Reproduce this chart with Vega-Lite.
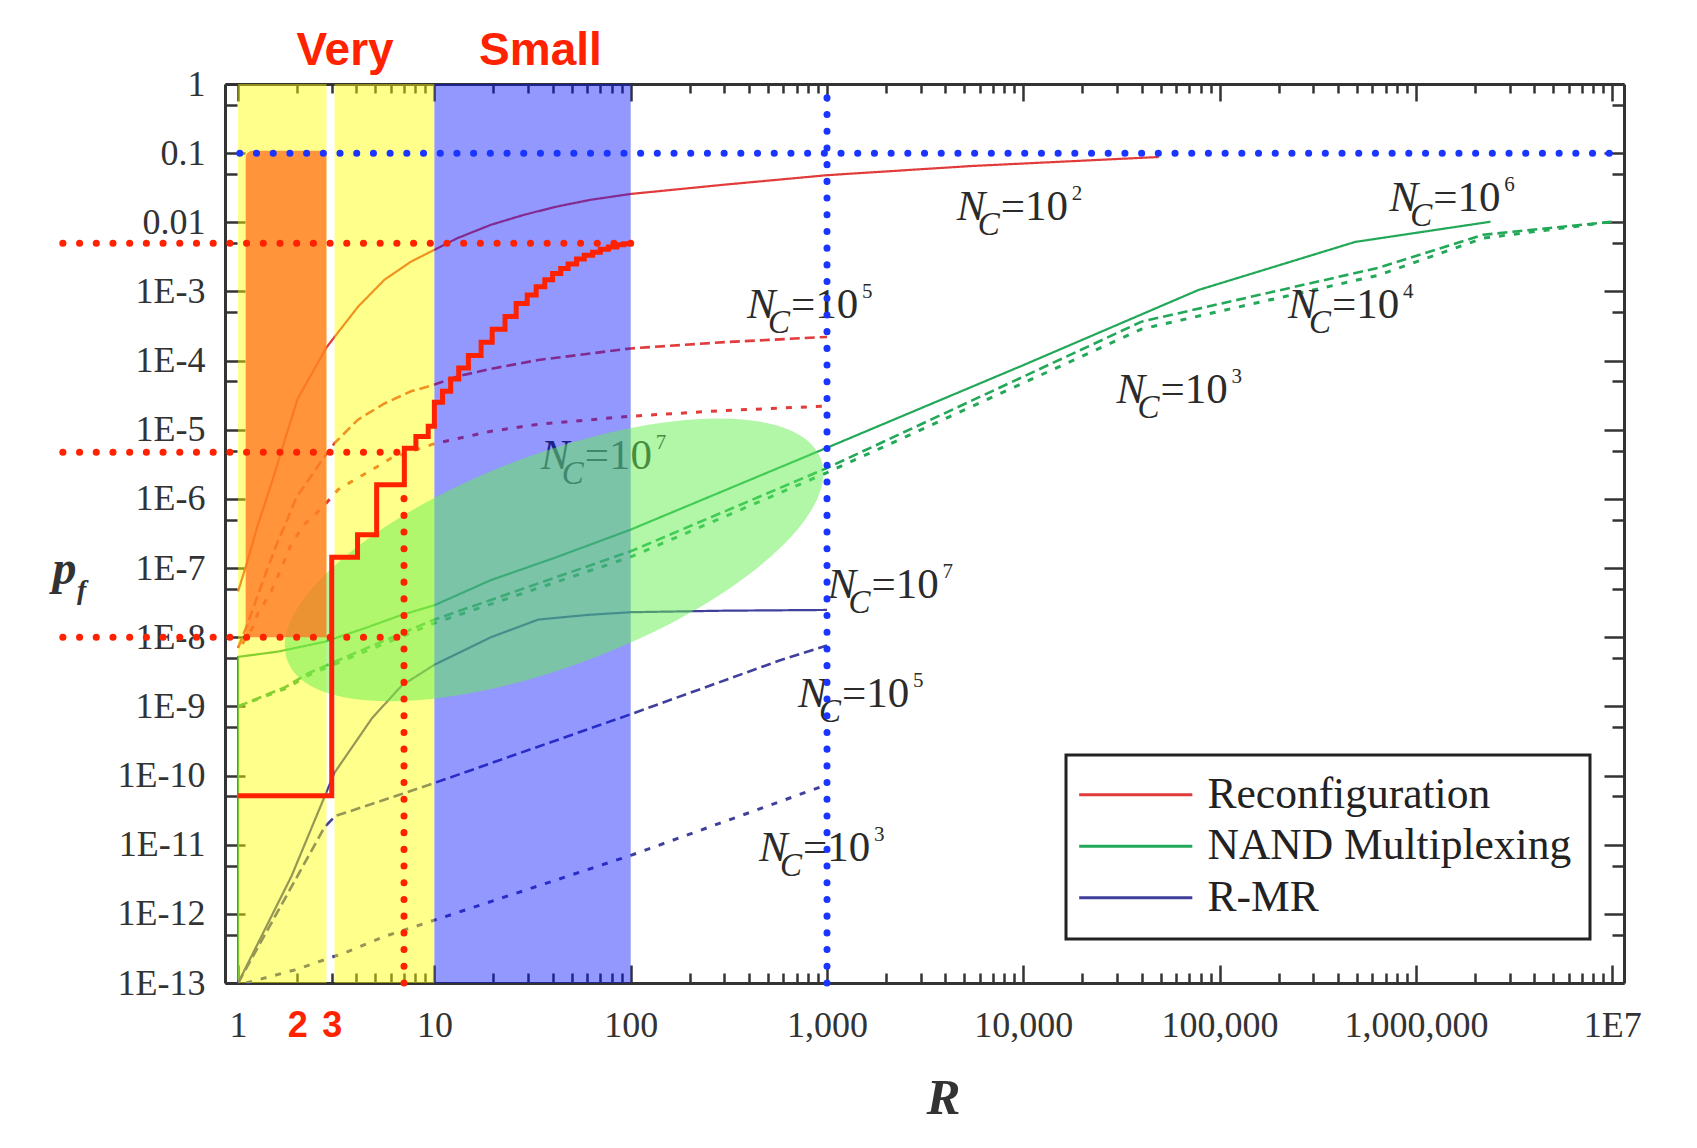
{
  "$schema": "https://vega.github.io/schema/vega-lite/v6.json",
  "width": 1399,
  "height": 899,
  "autosize": {"type": "none"},
  "padding": {"left": 225, "top": 84, "right": 73, "bottom": 165},
  "background": "#ffffff",
  "config": {
    "view": {"stroke": null},
    "legend": {"strokeWidth": 3}
  },
  "datasets": {
    "curves": [
      {"m": "Reconfiguration", "s": "solid", "x": 1, "y": 4.6e-8},
      {"m": "Reconfiguration", "s": "solid", "x": 1.1, "y": 1.1e-7},
      {"m": "Reconfiguration", "s": "solid", "x": 1.27, "y": 4.5e-7},
      {"m": "Reconfiguration", "s": "solid", "x": 1.5, "y": 1.9e-6},
      {"m": "Reconfiguration", "s": "solid", "x": 1.73, "y": 7.1e-6},
      {"m": "Reconfiguration", "s": "solid", "x": 2.01, "y": 2.8e-5},
      {"m": "Reconfiguration", "s": "solid", "x": 2.82, "y": 1.55e-4},
      {"m": "Reconfiguration", "s": "solid", "x": 3.1, "y": 2.2e-4},
      {"m": "Reconfiguration", "s": "solid", "x": 4.08, "y": 6e-4},
      {"m": "Reconfiguration", "s": "solid", "x": 5.57, "y": 1.48e-3},
      {"m": "Reconfiguration", "s": "solid", "x": 7.6, "y": 2.7e-3},
      {"m": "Reconfiguration", "s": "solid", "x": 10, "y": 4e-3},
      {"m": "Reconfiguration", "s": "solid", "x": 13.1, "y": 5.9e-3},
      {"m": "Reconfiguration", "s": "solid", "x": 19.4, "y": 9.2e-3},
      {"m": "Reconfiguration", "s": "solid", "x": 28.8, "y": 0.0129},
      {"m": "Reconfiguration", "s": "solid", "x": 42.5, "y": 0.017},
      {"m": "Reconfiguration", "s": "solid", "x": 62.7, "y": 0.0212},
      {"m": "Reconfiguration", "s": "solid", "x": 100, "y": 0.0257},
      {"m": "Reconfiguration", "s": "solid", "x": 300, "y": 0.035},
      {"m": "Reconfiguration", "s": "solid", "x": 1000, "y": 0.048},
      {"m": "Reconfiguration", "s": "solid", "x": 5355, "y": 0.065},
      {"m": "Reconfiguration", "s": "solid", "x": 49000, "y": 0.088},
      {"m": "Reconfiguration", "s": "dashed", "x": 1, "y": 7e-9},
      {"m": "Reconfiguration", "s": "dashed", "x": 1.1, "y": 1.4e-8},
      {"m": "Reconfiguration", "s": "dashed", "x": 1.167, "y": 2.2e-8},
      {"m": "Reconfiguration", "s": "dashed", "x": 1.31, "y": 5.5e-8},
      {"m": "Reconfiguration", "s": "dashed", "x": 1.45, "y": 1.2e-7},
      {"m": "Reconfiguration", "s": "dashed", "x": 1.6, "y": 2.5e-7},
      {"m": "Reconfiguration", "s": "dashed", "x": 1.79, "y": 5.2e-7},
      {"m": "Reconfiguration", "s": "dashed", "x": 1.98, "y": 1.05e-6},
      {"m": "Reconfiguration", "s": "dashed", "x": 2.76, "y": 4.1e-6},
      {"m": "Reconfiguration", "s": "dashed", "x": 3.1, "y": 6.4e-6},
      {"m": "Reconfiguration", "s": "dashed", "x": 4.08, "y": 1.4e-5},
      {"m": "Reconfiguration", "s": "dashed", "x": 5.57, "y": 2.4e-5},
      {"m": "Reconfiguration", "s": "dashed", "x": 7.6, "y": 3.6e-5},
      {"m": "Reconfiguration", "s": "dashed", "x": 10, "y": 4.5e-5},
      {"m": "Reconfiguration", "s": "dashed", "x": 13.1, "y": 5.9e-5},
      {"m": "Reconfiguration", "s": "dashed", "x": 19.4, "y": 7.6e-5},
      {"m": "Reconfiguration", "s": "dashed", "x": 33.8, "y": 1.02e-4},
      {"m": "Reconfiguration", "s": "dashed", "x": 100, "y": 1.5e-4},
      {"m": "Reconfiguration", "s": "dashed", "x": 300, "y": 1.85e-4},
      {"m": "Reconfiguration", "s": "dashed", "x": 1000, "y": 2.2e-4},
      {"m": "Reconfiguration", "s": "dotted", "x": 1.05, "y": 8e-9},
      {"m": "Reconfiguration", "s": "dotted", "x": 1.19, "y": 1.4e-8},
      {"m": "Reconfiguration", "s": "dotted", "x": 1.26, "y": 2.2e-8},
      {"m": "Reconfiguration", "s": "dotted", "x": 1.475, "y": 4.6e-8},
      {"m": "Reconfiguration", "s": "dotted", "x": 1.66, "y": 9.9e-8},
      {"m": "Reconfiguration", "s": "dotted", "x": 1.86, "y": 2.2e-7},
      {"m": "Reconfiguration", "s": "dotted", "x": 2.18, "y": 4.3e-7},
      {"m": "Reconfiguration", "s": "dotted", "x": 2.66, "y": 7.3e-7},
      {"m": "Reconfiguration", "s": "dotted", "x": 3.23, "y": 1.36e-6},
      {"m": "Reconfiguration", "s": "dotted", "x": 3.93, "y": 1.9e-6},
      {"m": "Reconfiguration", "s": "dotted", "x": 4.77, "y": 2.6e-6},
      {"m": "Reconfiguration", "s": "dotted", "x": 6.03, "y": 3.9e-6},
      {"m": "Reconfiguration", "s": "dotted", "x": 10, "y": 6.3e-6},
      {"m": "Reconfiguration", "s": "dotted", "x": 19.4, "y": 9.5e-6},
      {"m": "Reconfiguration", "s": "dotted", "x": 33.8, "y": 1.2e-5},
      {"m": "Reconfiguration", "s": "dotted", "x": 100, "y": 1.57e-5},
      {"m": "Reconfiguration", "s": "dotted", "x": 300, "y": 1.9e-5},
      {"m": "Reconfiguration", "s": "dotted", "x": 1000, "y": 2.2e-5},
      {"m": "NAND Multiplexing", "s": "solid", "x": 1, "y": 1e-13},
      {"m": "NAND Multiplexing", "s": "solid", "x": 1, "y": 5.2e-9},
      {"m": "NAND Multiplexing", "s": "solid", "x": 1.6, "y": 6.2e-9},
      {"m": "NAND Multiplexing", "s": "solid", "x": 2.76, "y": 8.6e-9},
      {"m": "NAND Multiplexing", "s": "solid", "x": 4.42, "y": 1.35e-8},
      {"m": "NAND Multiplexing", "s": "solid", "x": 6.8, "y": 2.1e-8},
      {"m": "NAND Multiplexing", "s": "solid", "x": 10, "y": 2.9e-8},
      {"m": "NAND Multiplexing", "s": "solid", "x": 19.4, "y": 6.7e-8},
      {"m": "NAND Multiplexing", "s": "solid", "x": 40.8, "y": 1.4e-7},
      {"m": "NAND Multiplexing", "s": "solid", "x": 100, "y": 3.6e-7},
      {"m": "NAND Multiplexing", "s": "solid", "x": 1000, "y": 5.5e-6},
      {"m": "NAND Multiplexing", "s": "solid", "x": 10000, "y": 8.6e-5},
      {"m": "NAND Multiplexing", "s": "solid", "x": 78000, "y": 1.05e-3},
      {"m": "NAND Multiplexing", "s": "solid", "x": 490000, "y": 5.2e-3},
      {"m": "NAND Multiplexing", "s": "solid", "x": 2400000, "y": 0.0102},
      {"m": "NAND Multiplexing", "s": "dashed", "x": 1, "y": 1e-9},
      {"m": "NAND Multiplexing", "s": "dashed", "x": 1.74, "y": 1.9e-9},
      {"m": "NAND Multiplexing", "s": "dashed", "x": 2.27, "y": 3e-9},
      {"m": "NAND Multiplexing", "s": "dashed", "x": 3.88, "y": 5.8e-9},
      {"m": "NAND Multiplexing", "s": "dashed", "x": 10, "y": 1.8e-8},
      {"m": "NAND Multiplexing", "s": "dashed", "x": 100, "y": 1.75e-7},
      {"m": "NAND Multiplexing", "s": "dashed", "x": 1000, "y": 2.8e-6},
      {"m": "NAND Multiplexing", "s": "dashed", "x": 40000, "y": 3.66e-4},
      {"m": "NAND Multiplexing", "s": "dashed", "x": 640000, "y": 2.19e-3},
      {"m": "NAND Multiplexing", "s": "dashed", "x": 2200000, "y": 6.6e-3},
      {"m": "NAND Multiplexing", "s": "dashed", "x": 10000000, "y": 0.0102},
      {"m": "NAND Multiplexing", "s": "dotted", "x": 1, "y": 1e-9},
      {"m": "NAND Multiplexing", "s": "dotted", "x": 1.74, "y": 1.8e-9},
      {"m": "NAND Multiplexing", "s": "dotted", "x": 2.27, "y": 2.8e-9},
      {"m": "NAND Multiplexing", "s": "dotted", "x": 3.88, "y": 5.3e-9},
      {"m": "NAND Multiplexing", "s": "dotted", "x": 10, "y": 1.6e-8},
      {"m": "NAND Multiplexing", "s": "dotted", "x": 100, "y": 1.45e-7},
      {"m": "NAND Multiplexing", "s": "dotted", "x": 1000, "y": 2.4e-6},
      {"m": "NAND Multiplexing", "s": "dotted", "x": 40000, "y": 2.86e-4},
      {"m": "NAND Multiplexing", "s": "dotted", "x": 640000, "y": 1.71e-3},
      {"m": "NAND Multiplexing", "s": "dotted", "x": 2200000, "y": 5.9e-3},
      {"m": "NAND Multiplexing", "s": "dotted", "x": 10000000, "y": 0.0102},
      {"m": "R-MR", "s": "solid", "x": 1, "y": 1e-13},
      {"m": "R-MR", "s": "solid", "x": 1.87, "y": 3.5e-12},
      {"m": "R-MR", "s": "solid", "x": 3.1, "y": 1.1e-10},
      {"m": "R-MR", "s": "solid", "x": 4.82, "y": 6.8e-10},
      {"m": "R-MR", "s": "solid", "x": 6.82, "y": 2e-9},
      {"m": "R-MR", "s": "solid", "x": 10, "y": 4e-9},
      {"m": "R-MR", "s": "solid", "x": 19.4, "y": 1e-8},
      {"m": "R-MR", "s": "solid", "x": 33.8, "y": 1.8e-8},
      {"m": "R-MR", "s": "solid", "x": 60, "y": 2.1e-8},
      {"m": "R-MR", "s": "solid", "x": 100, "y": 2.3e-8},
      {"m": "R-MR", "s": "solid", "x": 300, "y": 2.42e-8},
      {"m": "R-MR", "s": "solid", "x": 1000, "y": 2.48e-8},
      {"m": "R-MR", "s": "dashed", "x": 1, "y": 1e-13},
      {"m": "R-MR", "s": "dashed", "x": 2.76, "y": 1.8e-11},
      {"m": "R-MR", "s": "dashed", "x": 3.13, "y": 2.6e-11},
      {"m": "R-MR", "s": "dashed", "x": 6.82, "y": 5.4e-11},
      {"m": "R-MR", "s": "dashed", "x": 10, "y": 7.8e-11},
      {"m": "R-MR", "s": "dashed", "x": 100, "y": 7.7e-10},
      {"m": "R-MR", "s": "dashed", "x": 572, "y": 4.6e-9},
      {"m": "R-MR", "s": "dashed", "x": 1000, "y": 7.6e-9},
      {"m": "R-MR", "s": "dotted", "x": 1.1, "y": 1e-13},
      {"m": "R-MR", "s": "dotted", "x": 1.95, "y": 1.55e-13},
      {"m": "R-MR", "s": "dotted", "x": 2.41, "y": 1.9e-13},
      {"m": "R-MR", "s": "dotted", "x": 3.57, "y": 2.8e-13},
      {"m": "R-MR", "s": "dotted", "x": 5.57, "y": 4.7e-13},
      {"m": "R-MR", "s": "dotted", "x": 10, "y": 8.1e-13},
      {"m": "R-MR", "s": "dotted", "x": 100, "y": 7e-12},
      {"m": "R-MR", "s": "dotted", "x": 1000, "y": 7.4e-11}
    ],
    "nclabels": [
      {"x": 4579, "y": 0.0108, "e": "2"},
      {"x": 731000, "y": 0.01462, "e": "6"},
      {"x": 223000, "y": 4.1e-4, "e": "4"},
      {"x": 29800, "y": 2.41e-5, "e": "3"},
      {"x": 391, "y": 4.2e-4, "e": "5"},
      {"x": 34.8, "y": 2.67e-6, "e": "7"},
      {"x": 1005, "y": 3.75e-8, "e": "7"},
      {"x": 712, "y": 9.8e-10, "e": "5"},
      {"x": 450, "y": 5.9e-12, "e": "3"}
    ],
    "yellow": [
      {"x": 1, "x2": 2.82, "y": 1e-13, "y2": 1},
      {"x": 3.1, "x2": 10, "y": 1e-13, "y2": 1}
    ],
    "blue": [
      {"x": 10, "x2": 100, "y": 1e-13, "y2": 1}
    ],
    "orange": [
      {"x": 1.093, "x2": 2.82, "y": 1e-8, "y2": 0.108}
    ],
    "ellipse": [
      {"x": 40.7, "y": 1.315e-7}
    ],
    "steps": [
      {"x": 1, "y": 5.1e-11},
      {"x": 3, "y": 1.44e-7},
      {"x": 4.06, "y": 3.03e-7},
      {"x": 5.08, "y": 1.6e-6},
      {"x": 7.03, "y": 5.4e-6},
      {"x": 8.05, "y": 8e-6},
      {"x": 9.3, "y": 1.12e-5},
      {"x": 10, "y": 2.5e-5},
      {"x": 11, "y": 3.6e-5},
      {"x": 12.1, "y": 5.4e-5},
      {"x": 13.3, "y": 7.8e-5},
      {"x": 14.9, "y": 1.19e-4},
      {"x": 17.3, "y": 1.84e-4},
      {"x": 19.7, "y": 2.83e-4},
      {"x": 22.9, "y": 4.36e-4},
      {"x": 26.1, "y": 6.7e-4},
      {"x": 29.7, "y": 8.9e-4},
      {"x": 33, "y": 1.17e-3},
      {"x": 36.5, "y": 1.48e-3},
      {"x": 40, "y": 1.82e-3},
      {"x": 44, "y": 2.14e-3},
      {"x": 48, "y": 2.5e-3},
      {"x": 53, "y": 2.95e-3},
      {"x": 58, "y": 3.35e-3},
      {"x": 64, "y": 3.7e-3},
      {"x": 70, "y": 4.07e-3},
      {"x": 77, "y": 4.4e-3},
      {"x": 85, "y": 4.73e-3},
      {"x": 92, "y": 4.9e-3},
      {"x": 100, "y": 5e-3}
    ],
    "redguides": [
      {"x": 0.128, "x2": 100, "y": 0.005, "y2": 0.005},
      {"x": 0.128, "x2": 6.5, "y": 4.74e-6, "y2": 4.74e-6},
      {"x": 0.128, "x2": 6.5, "y": 1e-8, "y2": 1e-8},
      {"x": 7, "x2": 7, "y": 1e-13, "y2": 1.5e-6}
    ],
    "blueguides": [
      {"x": 1.02, "x2": 11000000, "y": 0.1, "y2": 0.1},
      {"x": 1000, "x2": 1000, "y": 1e-13, "y2": 1}
    ],
    "heads": [
      {"x": 3.505, "y": 1.9, "t": "Very"},
      {"x": 34.7, "y": 1.9, "t": "Small"}
    ],
    "sub": [
      {"x": 0.151, "y": 3.57e-8, "t": "f"}
    ],
    "anchor": [
      {"x": 1, "y": 1}
    ]
  },
  "layer": [
    {
      "encoding": {
        "x": {
          "field": "x", "type": "quantitative",
          "scale": {"type": "log", "domain": [0.8577, 11480000], "nice": false},
          "axis": {
            "orient": "bottom",
            "values": [1,2,3,4,5,6,7,8,9,10,20,30,40,50,60,70,80,90,100,200,300,400,500,600,700,800,900,1000,2000,3000,4000,5000,6000,7000,8000,9000,10000,20000,30000,40000,50000,60000,70000,80000,90000,100000,200000,300000,400000,500000,600000,700000,800000,900000,1000000,2000000,3000000,4000000,5000000,6000000,7000000,8000000,9000000,10000000],
            "labelExpr": "datum.value == 2 ? '2' : datum.value == 3 ? '3' : (abs(log(datum.value)/LN10 - round(log(datum.value)/LN10)) > 0.001 ? '' : (datum.value >= 9999999 ? '1E7' : format(datum.value, ',')))",
            "labelOverlap": false, "labelBound": false, "labelFlush": false,
            "labelBaseline": "top",
            "labelFont": {"condition": {"test": "datum.value == 2 || datum.value == 3", "value": "Liberation Sans"}, "value": "Liberation Serif"},
            "labelFontWeight": {"condition": {"test": "datum.value == 2 || datum.value == 3", "value": "bold"}, "value": "normal"},
            "labelColor": {"condition": {"test": "datum.value == 2 || datum.value == 3", "value": "#ff2200"}, "value": "#333333"},
            "labelFontSize": 36,
            "labelPadding": {"condition": {"test": "abs(log(datum.value)/LN10 - round(log(datum.value)/LN10)) < 0.001", "value": 43}, "value": 35},
            "tickSize": {"condition": {"test": "abs(log(datum.value)/LN10 - round(log(datum.value)/LN10)) < 0.001", "value": -18}, "value": -10},
            "tickWidth": 2.5, "tickColor": "#333333",
            "domainColor": "#333333", "domainWidth": 3,
            "grid": false,
            "title": "R",
            "titleFont": "Liberation Serif", "titleFontSize": 51, "titleFontStyle": "italic", "titleFontWeight": "bold", "titleColor": "#333333",
            "titleX": 718, "titleY": 130, "titleAlign": "center", "titleBaseline": "alphabetic"
          }
        },
        "y": {
          "field": "y", "type": "quantitative",
          "scale": {"type": "log", "domain": [1e-13, 1], "nice": false},
          "axis": {
            "orient": "left",
            "values": [1e-13,5e-13,1e-12,5e-12,1e-11,5e-11,1e-10,5e-10,1e-9,5e-9,1e-8,5e-8,1e-7,5e-7,1e-6,5e-6,1e-5,5e-5,1e-4,5e-4,0.001,0.005,0.01,0.05,0.1,0.5,1],
            "labelExpr": "abs(log(datum.value)/LN10 - round(log(datum.value)/LN10)) > 0.001 ? '' : (datum.value >= 0.5 ? '1' : datum.value >= 0.05 ? '0.1' : datum.value >= 0.005 ? '0.01' : '1E' + round(log(datum.value)/LN10))",
            "labelOverlap": false, "labelBound": false, "labelFlush": false,
            "labelFont": "Liberation Serif", "labelFontSize": 36, "labelColor": "#333333",
            "labelPadding": 40,
            "tickSize": {"condition": {"test": "abs(log(datum.value)/LN10 - round(log(datum.value)/LN10)) < 0.001", "value": -20}, "value": -12},
            "tickWidth": 2.5, "tickColor": "#333333",
            "domainColor": "#333333", "domainWidth": 3,
            "grid": false,
            "title": "p",
            "titleFont": "Liberation Serif", "titleFontSize": 48, "titleFontStyle": "italic", "titleFontWeight": "bold", "titleColor": "#333333",
            "titleAngle": 0, "titleX": -173, "titleY": 499, "titleAlign": "left", "titleBaseline": "alphabetic"
          }
        }
      },
      "layer": [
        {
          "data": {"name": "curves"},
          "mark": {"type": "line"},
          "encoding": {
            "color": {
              "field": "m", "type": "nominal",
              "scale": {"domain": ["Reconfiguration", "NAND Multiplexing", "R-MR"], "range": ["#e23b3b", "#22a858", "#40409c"]},
              "legend": {
                "title": " ",
                "titleOrient": "bottom",
                "titleFontSize": 2,
                "titlePadding": 0,
                "orient": "none", "legendX": 841, "legendY": 671,
                "direction": "vertical",
                "symbolType": "M -4 0 L 4 0",
                "symbolSize": 800,
                "symbolStrokeWidth": 3,
                "symbolOffset": 30,
                "labelFont": "Liberation Serif", "labelFontSize": 43.5, "labelColor": "#222222",
                "labelOffset": 50, "labelLimit": 0,
                "rowPadding": 6.5,
                "padding": 18,
                "strokeColor": "#222222",
                "fillColor": "#ffffff"
              }
            },
            "strokeDash": {
              "field": "s", "type": "nominal",
              "scale": {"domain": ["solid", "dashed", "dotted"], "range": [[1, 0], [10, 5], [6, 9]]},
              "legend": null
            },
            "strokeWidth": {
              "field": "s", "type": "nominal",
              "scale": {"domain": ["solid", "dashed", "dotted"], "range": [2.2, 3, 3]},
              "legend": null
            },
            "order": {"value": null}
          }
        },
        {
          "data": {"name": "nclabels"},
          "mark": {"type": "text", "font": "Liberation Serif", "fontStyle": "italic", "fontSize": 43, "align": "left", "baseline": "alphabetic", "color": "#2b2b2b"},
          "encoding": {"text": {"value": "N"}}
        },
        {
          "data": {"name": "nclabels"},
          "mark": {"type": "text", "font": "Liberation Serif", "fontStyle": "italic", "fontSize": 33, "align": "left", "baseline": "alphabetic", "color": "#2b2b2b", "dx": 21, "dy": 15},
          "encoding": {"text": {"value": "C"}}
        },
        {
          "data": {"name": "nclabels"},
          "mark": {"type": "text", "font": "Liberation Serif", "fontSize": 43, "align": "left", "baseline": "alphabetic", "color": "#2b2b2b", "dx": 44},
          "encoding": {"text": {"value": "=10"}}
        },
        {
          "data": {"name": "nclabels"},
          "mark": {"type": "text", "font": "Liberation Serif", "fontSize": 21, "align": "left", "baseline": "alphabetic", "color": "#2b2b2b", "dx": 115, "dy": -20},
          "encoding": {"text": {"field": "e"}}
        },
        {
          "data": {"name": "yellow"},
          "mark": {"type": "rect", "color": "#ffff00", "opacity": 0.45},
          "encoding": {"x2": {"field": "x2"}, "y2": {"field": "y2"}}
        },
        {
          "data": {"name": "blue"},
          "mark": {"type": "rect", "color": "#0814ff", "opacity": 0.44},
          "encoding": {"x2": {"field": "x2"}, "y2": {"field": "y2"}}
        },
        {
          "data": {"name": "ellipse"},
          "mark": {
            "type": "point", "filled": true, "color": "#64f050", "opacity": 0.5, "strokeWidth": 0,
            "shape": "M 1 0 C 1 0.2047 0.5523 0.3707 0 0.3707 C -0.5523 0.3707 -1 0.2047 -1 0 C -1 -0.2047 -0.5523 -0.3707 0 -0.3707 C 0.5523 -0.3707 1 -0.2047 1 0 Z",
            "size": 325128, "angle": -20.8
          }
        },
        {
          "data": {"name": "orange"},
          "mark": {"type": "rect", "color": "#ff7020", "opacity": 0.75, "cornerRadiusTopLeft": 7},
          "encoding": {"x2": {"field": "x2"}, "y2": {"field": "y2"}}
        },
        {
          "data": {"name": "steps"},
          "mark": {"type": "line", "interpolate": "step-after", "color": "#ff2200", "strokeWidth": 5},
          "encoding": {}
        },
        {
          "data": {"name": "redguides"},
          "mark": {"type": "rule", "color": "#ff2200", "strokeWidth": 7, "strokeCap": "round", "strokeDash": [0.1, 16.6], "clip": false},
          "encoding": {"x2": {"field": "x2"}, "y2": {"field": "y2"}}
        },
        {
          "data": {"name": "blueguides"},
          "mark": {"type": "rule", "color": "#1a35ff", "strokeWidth": 7, "strokeCap": "round", "strokeDash": [0.1, 16.6], "clip": false},
          "encoding": {"x2": {"field": "x2"}, "y2": {"field": "y2"}}
        },
        {
          "data": {"name": "heads"},
          "mark": {"type": "text", "font": "Liberation Sans", "fontWeight": "bold", "fontSize": 46, "align": "center", "baseline": "alphabetic", "color": "#ff2200", "clip": false},
          "encoding": {"text": {"field": "t"}}
        },
        {
          "data": {"name": "sub"},
          "mark": {"type": "text", "font": "Liberation Serif", "fontWeight": "bold", "fontStyle": "italic", "fontSize": 28, "align": "left", "baseline": "alphabetic", "color": "#333333", "clip": false},
          "encoding": {"text": {"field": "t"}}
        }
      ]
    },
    {
      "data": {"name": "anchor"},
      "mark": {"type": "point", "opacity": 0},
      "encoding": {
        "x": {
          "field": "x", "type": "quantitative",
          "scale": {"type": "log", "domain": [0.8577, 11480000], "nice": false},
          "axis": {
            "orient": "top",
            "values": [1,2,3,4,5,6,7,8,9,10,20,30,40,50,60,70,80,90,100,200,300,400,500,600,700,800,900,1000,2000,3000,4000,5000,6000,7000,8000,9000,10000,20000,30000,40000,50000,60000,70000,80000,90000,100000,200000,300000,400000,500000,600000,700000,800000,900000,1000000,2000000,3000000,4000000,5000000,6000000,7000000,8000000,9000000,10000000],
            "labels": false, "title": null, "grid": false,
            "tickSize": {"condition": {"test": "abs(log(datum.value)/LN10 - round(log(datum.value)/LN10)) < 0.001", "value": -17}, "value": -9},
            "tickWidth": 2.5, "tickColor": "#333333",
            "domainColor": "#333333", "domainWidth": 3
          }
        },
        "y": {
          "field": "y", "type": "quantitative",
          "scale": {"type": "log", "domain": [1e-13, 1], "nice": false},
          "axis": {
            "orient": "right",
            "values": [1e-13,5e-13,1e-12,5e-12,1e-11,5e-11,1e-10,5e-10,1e-9,5e-9,1e-8,5e-8,1e-7,5e-7,1e-6,5e-6,1e-5,5e-5,1e-4,5e-4,0.001,0.005,0.01,0.05,0.1,0.5,1],
            "labels": false, "title": null, "grid": false,
            "tickSize": {"condition": {"test": "abs(log(datum.value)/LN10 - round(log(datum.value)/LN10)) < 0.001", "value": -20}, "value": -12},
            "tickWidth": 2.5, "tickColor": "#333333",
            "domainColor": "#333333", "domainWidth": 3
          }
        }
      }
    }
  ],
  "resolve": {"axis": {"x": "independent", "y": "independent"}}
}
